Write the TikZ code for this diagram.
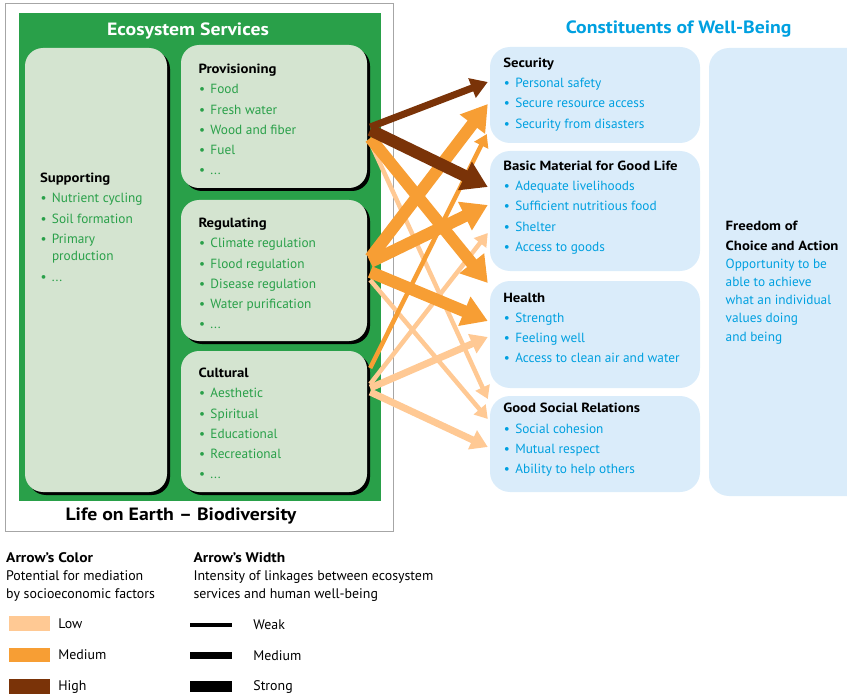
\documentclass[tikz,border=0pt]{standalone}
\usepackage{fontspec}
\setmainfont{PT Sans}[BoldFeatures={FakeStretch=1.11}]
\usetikzlibrary{arrows.meta,shadows,positioning}

\definecolor{esgreen}{RGB}{41,160,73}
\definecolor{esbox}{RGB}{212,228,208}
\definecolor{wbbox}{RGB}{218,236,250}
\definecolor{wbtext}{RGB}{0,160,224}
\definecolor{lowlink}{RGB}{255,201,148}
\definecolor{medlink}{RGB}{247,158,52}
\definecolor{highlink}{RGB}{122,51,8}

% bullet items, green for services, blue for well-being
\newcommand{\itm}[1]{\makebox[12pt][l]{\hspace{0.5pt}\textbullet}#1}
\newcommand{\es}[1]{\textcolor{esgreen}{\itm{#1}}}
\newcommand{\wb}[1]{\textcolor{wbtext}{\itm{#1}}}

\tikzset{
    service box/.style={rectangle, rounded corners=18pt, fill=esbox, inner sep=0pt,
        drop shadow={shadow xshift=3pt, shadow yshift=-3pt, opacity=1, fill=black}},
    wellbeing box/.style={rectangle, rounded corners=20pt, fill=wbbox, inner sep=0pt},
    box text/.style={anchor=north west, align=left, inner sep=0pt,
        font=\fontsize{13.3}{20.3}\selectfont},
    title/.style={font=\fontsize{17.8}{20}\selectfont\bfseries, inner sep=0pt},
    legend text/.style={anchor=north west, align=left, inner sep=0pt,
        font=\fontsize{13.9}{18}\selectfont},
    legend label/.style={inner sep=0pt, font=\fontsize{13.9}{16}\selectfont},
    swatch/.style={rectangle, inner sep=0pt, minimum width=41pt, minimum height=14.5pt},
    link/.style={-{Triangle[length=5pt 1.7, width=6pt 2.0]}},
    weak link/.style={link, line width=4.5pt},
    medium link/.style={link, line width=7pt},
    strong link/.style={link, line width=12pt}
}

\begin{document}
\begin{tikzpicture}[x=1pt, y=-1pt]
    \useasboundingbox (0,0) rectangle (847,698);
    \clip (0,0) rectangle (847,698);

    % ecosystem services panel
    \draw[gray!70, line width=1pt] (5,4) rectangle (393,531.5);
    \fill[esgreen] (19,12.7) rectangle (381,500.5);
    \node[title, white] (es title) at (188,31) {Ecosystem Services};
    \node[title] (life) at (181,516) {Life on Earth -- Biodiversity};

    \node[service box, minimum width=142pt, minimum height=444pt] (supp) at (96,270) {};
    \node[service box, minimum width=186pt, minimum height=143pt] (prov) at (274,116.5) {};
    \node[service box, minimum width=186pt, minimum height=141pt] (reg) at (274,270.5) {};
    \node[service box, minimum width=186pt, minimum height=141pt] (cult) at (274,421.5) {};

    \node[box text] at ([shift={(15,125)}]supp.north west)
        {\textbf{Supporting}\\ \es{Nutrient cycling}\\ \es{Soil formation}\\ \es{Primary}\\[-3.3pt]
         \textcolor{esgreen}{\hspace*{12pt}production}\\[0.7pt] \es{...}};
    \node[box text] at ([shift={(17.5,19)}]prov.north west)
        {\textbf{Provisioning}\\ \es{Food}\\ \es{Fresh water}\\ \es{Wood and fiber}\\ \es{Fuel}\\ \es{...}};
    \node[box text] at ([shift={(17.5,18)}]reg.north west)
        {\textbf{Regulating}\\ \es{Climate regulation}\\ \es{Flood regulation}\\ \es{Disease regulation}\\ \es{Water purification}\\ \es{...}};
    \node[box text] at ([shift={(17.5,17)}]cult.north west)
        {\textbf{Cultural}\\ \es{Aesthetic}\\ \es{Spiritual}\\ \es{Educational}\\ \es{Recreational}\\ \es{...}};

    % constituents of well-being
    \node[title, wbtext] (wb title) at (678.7,29.3) {Constituents of Well-Being};
    \node[wellbeing box, minimum width=210pt, minimum height=96pt] (sec) at (595,95) {};
    \node[wellbeing box, minimum width=210pt, minimum height=120pt] (basic) at (595,211) {};
    \node[wellbeing box, minimum width=210pt, minimum height=107pt] (health) at (595,334.5) {};
    \node[wellbeing box, minimum width=210pt, minimum height=96pt] (social) at (595,444) {};
    \node[wellbeing box, minimum width=171pt, minimum height=448pt] (free) at (794.5,272) {};

    \node[box text] at ([shift={(13.3,10.7)}]sec.north west)
        {\textbf{Security}\\ \wb{Personal safety}\\ \wb{Secure resource access}\\ \wb{Security from disasters}};
    \node[box text] at ([shift={(13.3,9.7)}]basic.north west)
        {\textbf{Basic Material for Good Life}\\ \wb{Adequate livelihoods}\\ \wb{Sufficient nutritious food}\\ \wb{Shelter}\\ \wb{Access to goods}};
    \node[box text] at ([shift={(13.3,11.7)}]health.north west)
        {\textbf{Health}\\ \wb{Strength}\\ \wb{Feeling well}\\ \wb{Access to clean air and water}};
    \node[box text] at ([shift={(13.3,7.3)}]social.north west)
        {\textbf{Good Social Relations}\\ \wb{Social cohesion}\\ \wb{Mutual respect}\\ \wb{Ability to help others}};
    \node[box text, font=\fontsize{13.3}{18.2}\selectfont] at ([shift={(16.7,172.7)}]free.north west)
        {\textbf{Freedom of}\\[1.8pt] \textbf{Choice and Action}\\
         \textcolor{wbtext}{Opportunity to be}\\ \textcolor{wbtext}{able to achieve}\\
         \textcolor{wbtext}{what an individual}\\ \textcolor{wbtext}{values doing}\\ \textcolor{wbtext}{and being}};

    % links, low potential first so the stronger colours lie on top
    \draw[weak link, lowlink] ([shift={(3,25.5)}]prov.east) -- ([shift={(-2,-45)}]social.west);
    \draw[weak link, lowlink] ([shift={(3,9.5)}]reg.east) -- ([shift={(-2,-25)}]social.west);
    \draw[weak link, lowlink] ([shift={(3,-37.5)}]cult.east) -- ([shift={(-2,22)}]basic.west);
    \draw[medium link, lowlink] ([shift={(3,-33.5)}]cult.east) -- ([shift={(-2,2.5)}]health.west);
    \draw[medium link, lowlink] ([shift={(3,-29.5)}]cult.east) -- ([shift={(-2,3)}]social.west);

    \draw[weak link, medlink] ([shift={(3,-53.5)}]cult.east) -- ([shift={(-3,39)}]sec.west);
    \draw[strong link, medlink] ([shift={(3,21.5)}]prov.east) -- ([shift={(-2,-51.5)}]health.west);
    \draw[strong link, medlink] ([shift={(3,-12.5)}]reg.east) -- ([shift={(-2,9)}]sec.west);
    \draw[strong link, medlink] ([shift={(3,-8.5)}]reg.east) -- ([shift={(-2,-6)}]basic.west);
    \draw[strong link, medlink] ([shift={(3,1.5)}]reg.east) -- ([shift={(-2,-13.5)}]health.west);

    \draw[medium link, highlink] ([shift={(3,10.5)}]prov.east) -- ([shift={(-2,-13)}]sec.west);
    \draw[strong link, highlink] ([shift={(3,13.5)}]prov.east) -- ([shift={(-2,-24)}]basic.west);

    % legend
    \node[legend text] (col head) at (6,552.5)
        {\textbf{Arrow’s Color}\\ Potential for mediation\\ by socioeconomic factors};
    \node[swatch, fill=lowlink] (low) at (29.5,623.3) {};
    \node[swatch, fill=medlink] (med) at (29.5,655) {};
    \node[swatch, fill=highlink] (high) at (29.5,686.7) {};
    \node[legend label, right=8pt of low] {Low};
    \node[legend label, right=8pt of med] {Medium};
    \node[legend label, right=8pt of high] {High};

    \node[legend text] (wid head) at (193.3,552.5)
        {\textbf{Arrow’s Width}\\ Intensity of linkages between ecosystem\\ services and human well-being};
    \node[swatch, fill=black, minimum width=42pt, minimum height=4.7pt] (weak) at (211,625) {};
    \node[swatch, fill=black, minimum width=42pt, minimum height=6.7pt] (medium) at (211,655.7) {};
    \node[swatch, fill=black, minimum width=42pt, minimum height=11pt] (strong) at (211,686.7) {};
    \node[legend label, right=21pt of weak] {Weak};
    \node[legend label, right=21pt of medium] {Medium};
    \node[legend label, right=21pt of strong] {Strong};
\end{tikzpicture}
\end{document}
